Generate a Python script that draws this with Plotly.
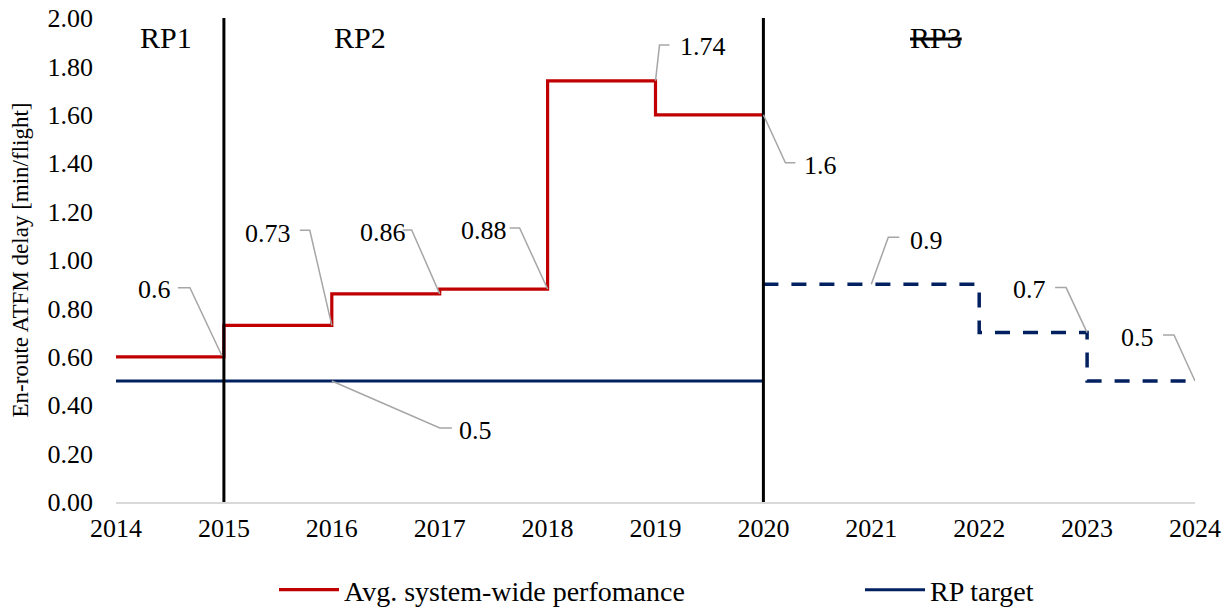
import plotly.graph_objects as go

# ---- data ----
perf_years = [2014, 2015, 2016, 2017, 2018, 2019, 2020]
perf_values = [0.6, 0.6, 0.73, 0.86, 0.88, 1.74, 1.6]

target_years = [2014, 2020]
target_values = [0.5, 0.5]

rp3_years = [2020, 2021, 2022, 2023, 2024]
rp3_values = [0.9, 0.9, 0.7, 0.5, 0.5]

period_bounds = [2015, 2020]
period_labels = ["RP1", "RP2", "<s>RP3</s>"]
period_label_x = [2014.46, 2016.26, 2021.6]

# callout labels
perf_label_x = [2015, 2016, 2017, 2018, 2019, 2020]
perf_label_y = [0.6, 0.73, 0.86, 0.88, 1.74, 1.6]
perf_label_text = ["0.6", "0.73", "0.86", "0.88", "1.74", "1.6"]

tgt_label_x = [2016, 2021, 2023, 2024]
tgt_label_y = [0.5, 0.9, 0.7, 0.5]
tgt_label_text = ["0.5", "0.9", "0.7", "0.5"]

RED = "#C00000"
NAVY = "#002060"
FONT = "Liberation Serif"

fig = go.Figure()
fig.add_trace(go.Scatter(x=perf_years, y=perf_values, mode="lines", line=dict(color=RED, width=3.2, shape="vh"),
                         name="Avg. system-wide perfomance", legend="legend"))
fig.add_trace(go.Scatter(x=target_years, y=target_values, mode="lines", line=dict(color=NAVY, width=3),
                         name="RP target", legend="legend2"))
fig.add_trace(go.Scatter(x=rp3_years, y=rp3_values, mode="lines",
                         line=dict(color=NAVY, width=3.5, shape="hv", dash="15px,13px"),
                         showlegend=False))

for b in period_bounds:
    fig.add_shape(type="line", x0=b, x1=b, y0=0, y1=2, xref="x", yref="y",
                  line=dict(color="black", width=3), layer="above")

for x, t in zip(period_label_x, period_labels):
    fig.add_annotation(x=x, y=1.92, xref="x", yref="y", text=t, showarrow=False,
                       font=dict(family=FONT, size=30, color="black"))

# leader line geometry (pixel offsets, screen y-down) and text offsets
callouts = list(zip(perf_label_x + tgt_label_x, perf_label_y + tgt_label_y, perf_label_text + tgt_label_text))
leader = [
    ([(-46, -69), (-34, -69), (-2, -1)], (-69, -67)),
    ([(-32, -95), (-22, -95), (0, 0)], (-64, -92)),
    ([(-37, -64), (-28, -64), (0, 0)], (-57, -61)),
    ([(-38, -61), (-28, -61), (0, 0)], (-64, -59)),
    ([(14, -36), (4, -36), (0, 0)], (47, -34)),
    ([(0, 0), (22, 48), (32, 48)], (57, 51)),
    ([(0, 0), (108, 47), (120, 47)], (144, 49)),
    ([(0, 0), (17, -47), (28, -47)], (55, -44)),
    ([(-32, -45), (-21, -45), (0, 0)], (-58, -43)),
    ([(-32, -46), (-21, -46), (0, 0)], (-58, -44)),
]
for (x, y, t), (pts, toff) in zip(callouts, leader):
    path = "M " + " L ".join(f"{px},{-py}" for px, py in pts)
    fig.add_shape(type="path", path=path, xref="x", yref="y", xsizemode="pixel", ysizemode="pixel",
                  xanchor=x, yanchor=y, line=dict(color="#A6A6A6", width=1.5))
    fig.add_annotation(x=x, y=y, xref="x", yref="y", text=t, showarrow=False,
                       xshift=toff[0], yshift=-toff[1],
                       font=dict(family=FONT, size=26, color="black"))

leg_common = dict(orientation="h", xref="container", yref="container", xanchor="left", yanchor="middle",
                  y=1 - 590 / 609, font=dict(family=FONT, size=28, color="black"), itemwidth=60,
                  bgcolor="rgba(0,0,0,0)")
fig.update_layout(
    width=1232, height=609,
    margin=dict(l=116, r=37, t=18, b=107),
    plot_bgcolor="white", paper_bgcolor="white",
    font=dict(family=FONT, size=26, color="black"),
    showlegend=True,
    legend=dict(x=274 / 1232, **leg_common),
    legend2=dict(x=860 / 1232, **leg_common),
    xaxis=dict(range=[2014, 2024], tickmode="array", tickvals=list(range(2014, 2025)),
               showgrid=False, showline=True, linecolor="#D9D9D9", linewidth=1.5, automargin=False,
               ticks="", zeroline=False, tickfont=dict(family=FONT, size=26), ticklabelstandoff=2),
    yaxis=dict(range=[0, 2], dtick=0.2, tickformat=".2f", showgrid=False, zeroline=False, automargin=False,
               showline=False, ticks="", tickfont=dict(family=FONT, size=26), ticklabelstandoff=22,
               title=dict(text="En-route ATFM delay [min/flight]", font=dict(family=FONT, size=23), standoff=12)),
)

fig.write_html("out.html", config={"displayModeBar": False},
               post_script="document.body.style.margin='0';document.body.style.overflow='hidden';")
